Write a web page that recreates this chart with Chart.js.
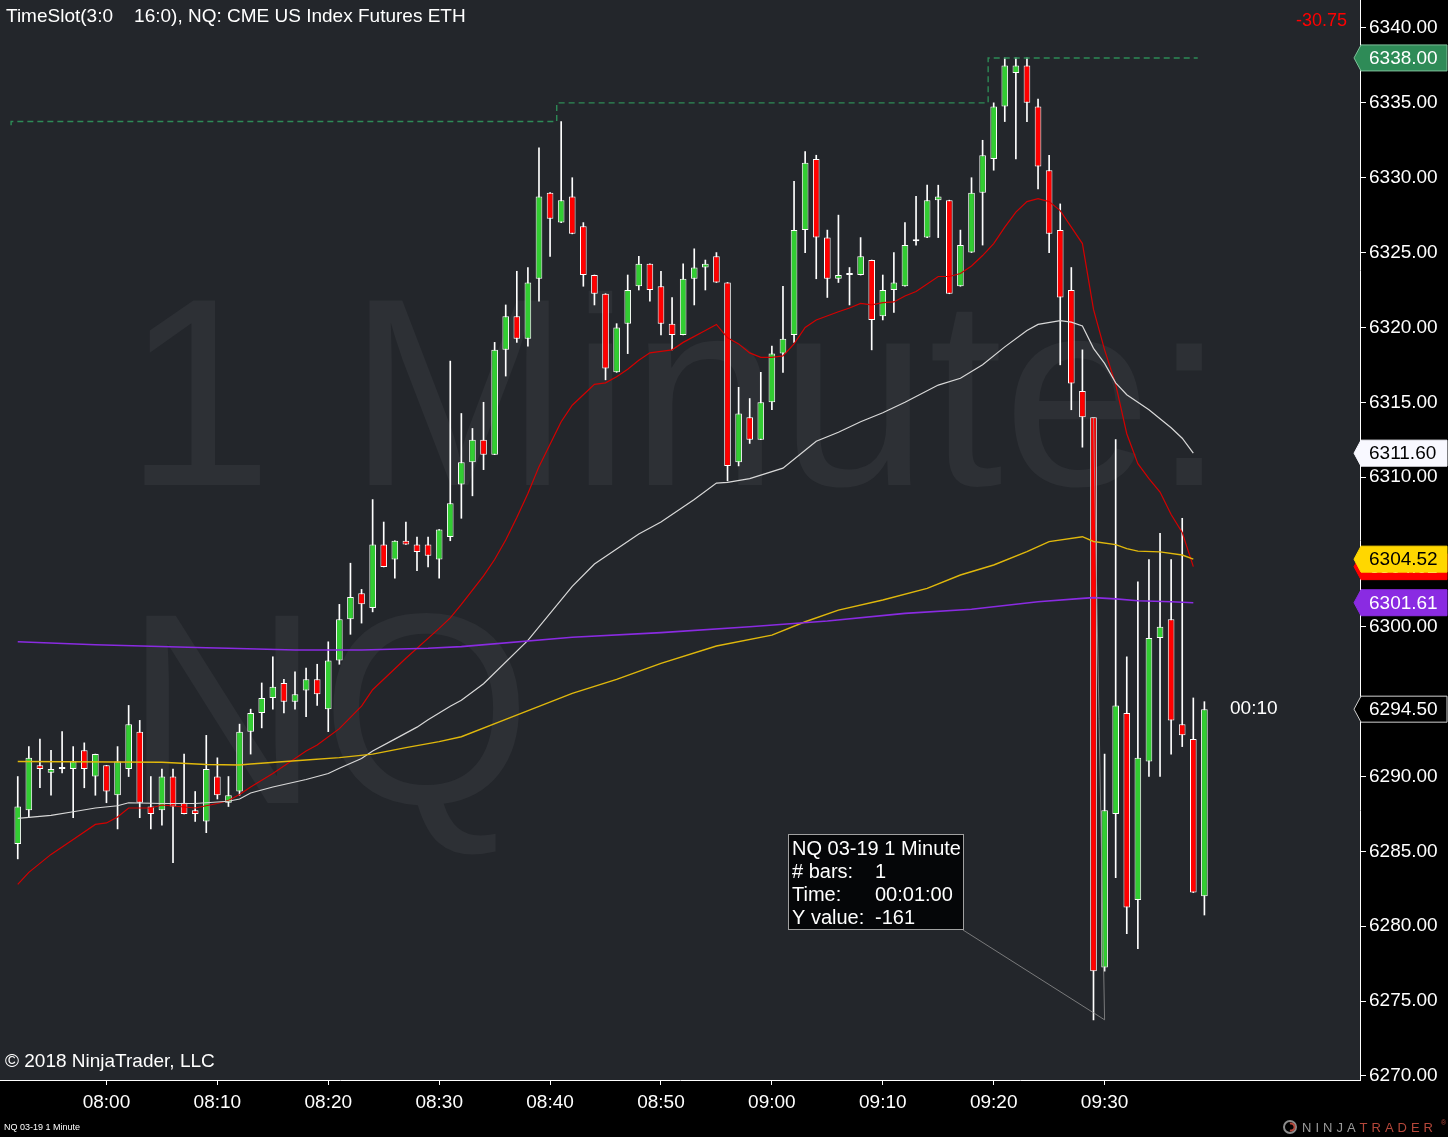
<!DOCTYPE html>
<html>
<head>
<meta charset="utf-8">
<title>NQ 03-19 1 Minute</title>
<script src="https://cdn.jsdelivr.net/npm/chart.js@4.4.1/dist/chart.umd.min.js"></script>
<style>
  html, body { margin: 0; padding: 0; background: #000; overflow: hidden; }
  #wrap { width: 1448px; height: 1137px; }
</style>
</head>
<body>
<div id="wrap"><canvas id="chart" width="1448" height="1137"></canvas></div>
<script>
// bars, 1 minute, 07:52 -> 09:39
const times = [
    "07:52", "07:53", "07:54", "07:55", "07:56", "07:57", "07:58", "07:59",
    "08:00", "08:01", "08:02", "08:03", "08:04", "08:05", "08:06", "08:07", "08:08", "08:09",
    "08:10", "08:11", "08:12", "08:13", "08:14", "08:15", "08:16", "08:17", "08:18", "08:19",
    "08:20", "08:21", "08:22", "08:23", "08:24", "08:25", "08:26", "08:27", "08:28", "08:29",
    "08:30", "08:31", "08:32", "08:33", "08:34", "08:35", "08:36", "08:37", "08:38", "08:39",
    "08:40", "08:41", "08:42", "08:43", "08:44", "08:45", "08:46", "08:47", "08:48", "08:49",
    "08:50", "08:51", "08:52", "08:53", "08:54", "08:55", "08:56", "08:57", "08:58", "08:59",
    "09:00", "09:01", "09:02", "09:03", "09:04", "09:05", "09:06", "09:07", "09:08", "09:09",
    "09:10", "09:11", "09:12", "09:13", "09:14", "09:15", "09:16", "09:17", "09:18", "09:19",
    "09:20", "09:21", "09:22", "09:23", "09:24", "09:25", "09:26", "09:27", "09:28", "09:29",
    "09:30", "09:31", "09:32", "09:33", "09:34", "09:35", "09:36", "09:37", "09:38", "09:39"
]

const opens = [
    6285.5, 6287.75, 6290.75, 6290.25, 6290.5, 6290.5, 6291.75, 6290.0, 6290.75, 6288.75,
    6290.5, 6293.0, 6288.0, 6287.75, 6290.0, 6288.25, 6287.75, 6287.0, 6290.0, 6288.25,
    6289.0, 6293.0, 6294.25, 6295.25, 6296.25, 6295.0, 6295.75, 6296.5, 6294.5, 6297.75,
    6300.5, 6302.25, 6301.25, 6305.5, 6304.5, 6305.75, 6305.5, 6305.5, 6304.5, 6306.0,
    6309.5, 6311.0, 6312.5, 6311.5, 6318.5, 6320.75, 6319.25, 6323.25, 6329.0, 6327.0,
    6328.75, 6326.75, 6323.5, 6322.25, 6317.0, 6320.25, 6322.75, 6324.25, 6322.75, 6320.25,
    6319.5, 6323.25, 6324.0, 6324.75, 6323.0, 6311.0, 6314.0, 6312.5, 6315.0, 6318.25,
    6319.5, 6326.5, 6331.25, 6326.0, 6323.25, 6323.5, 6323.5, 6324.5, 6320.75, 6322.5,
    6322.75, 6325.75, 6326.0, 6328.5, 6328.5, 6322.75, 6325.0, 6329.0, 6331.25, 6334.75,
    6337.0, 6337.5, 6334.75, 6330.5, 6326.5, 6322.5, 6315.75, 6314.0, 6277.25, 6287.5,
    6294.25, 6281.75, 6291.0, 6299.25, 6300.5, 6293.5, 6292.5, 6282.0
]
const highs = [
    6290.0, 6292.0, 6292.5, 6291.75, 6293.0, 6292.0, 6292.25, 6291.5, 6290.75, 6292.0,
    6294.75, 6293.75, 6290.0, 6290.5, 6290.5, 6291.5, 6289.0, 6292.75, 6291.25, 6290.0,
    6293.5, 6294.5, 6296.25, 6298.0, 6296.5, 6297.0, 6297.25, 6297.5, 6299.0, 6301.5,
    6304.25, 6302.5, 6308.5, 6307.0, 6305.75, 6307.0, 6306.0, 6306.0, 6306.5, 6317.75,
    6314.25, 6313.25, 6315.0, 6319.0, 6321.5, 6323.75, 6324.0, 6332.0, 6329.0, 6333.75,
    6330.0, 6327.0, 6323.5, 6322.25, 6320.25, 6323.5, 6324.75, 6324.25, 6323.75, 6322.0,
    6324.25, 6325.25, 6324.5, 6325.0, 6323.0, 6316.0, 6315.25, 6317.0, 6318.75, 6322.75,
    6329.75, 6331.75, 6331.5, 6326.5, 6327.5, 6324.0, 6326.0, 6324.5, 6323.5, 6325.0,
    6327.0, 6328.75, 6329.5, 6329.5, 6328.5, 6326.5, 6330.0, 6332.5, 6335.0, 6338.0,
    6338.0, 6338.0, 6335.25, 6331.5, 6328.25, 6324.0, 6318.5, 6314.0, 6291.5, 6312.5,
    6298.0, 6303.0, 6304.5, 6306.25, 6304.5, 6307.25, 6295.25, 6295.0
]
const lows = [
    6284.5, 6287.25, 6289.25, 6288.75, 6290.25, 6287.25, 6289.25, 6288.75, 6288.25, 6286.5,
    6290.0, 6287.25, 6286.5, 6286.75, 6284.25, 6287.5, 6287.0, 6286.25, 6288.5, 6288.0,
    6288.75, 6291.5, 6293.25, 6294.5, 6294.25, 6294.5, 6294.0, 6294.75, 6293.0, 6297.5,
    6299.5, 6300.25, 6301.0, 6304.0, 6303.25, 6305.5, 6303.75, 6304.0, 6303.25, 6305.75,
    6307.25, 6308.75, 6310.5, 6311.5, 6316.75, 6319.0, 6318.75, 6321.75, 6324.75, 6327.0,
    6326.25, 6322.75, 6321.5, 6316.5, 6317.0, 6318.25, 6322.5, 6321.75, 6319.5, 6318.5,
    6319.5, 6321.5, 6322.5, 6323.0, 6309.75, 6310.75, 6312.25, 6312.5, 6314.5, 6317.0,
    6319.0, 6325.0, 6323.25, 6322.0, 6323.0, 6321.5, 6323.5, 6318.5, 6320.5, 6321.0,
    6322.75, 6325.5, 6326.0, 6326.0, 6322.25, 6322.75, 6325.0, 6325.5, 6330.5, 6333.75,
    6331.25, 6333.75, 6329.25, 6325.0, 6317.5, 6314.5, 6312.0, 6273.75, 6277.0, 6283.25,
    6279.5, 6278.5, 6290.0, 6290.0, 6291.5, 6292.0, 6282.25, 6280.75
]
const closes = [
    6288.0, 6291.25, 6290.5, 6290.5, 6290.5, 6291.0, 6290.5, 6291.5, 6289.0, 6291.0,
    6293.5, 6288.25, 6287.5, 6290.0, 6288.0, 6287.5, 6287.5, 6290.5, 6288.75, 6288.75,
    6293.0, 6294.25, 6295.25, 6296.0, 6295.0, 6295.5, 6296.5, 6295.5, 6297.75, 6300.5,
    6302.0, 6301.5, 6305.5, 6304.0, 6305.75, 6305.5, 6305.0, 6304.75, 6306.5, 6308.25,
    6311.0, 6312.5, 6311.5, 6318.5, 6320.75, 6319.25, 6323.0, 6328.75, 6327.25, 6328.5,
    6326.25, 6323.5, 6322.25, 6317.25, 6320.0, 6322.5, 6324.25, 6322.5, 6320.25, 6319.5,
    6323.25, 6324.0, 6324.25, 6323.0, 6310.75, 6314.25, 6312.5, 6315.0, 6318.25, 6319.25,
    6326.5, 6331.0, 6326.0, 6323.25, 6323.5, 6323.5, 6324.75, 6320.5, 6322.5, 6323.0,
    6325.5, 6325.75, 6328.5, 6328.75, 6322.25, 6325.5, 6329.0, 6331.5, 6334.75, 6337.5,
    6337.5, 6335.0, 6330.75, 6326.25, 6322.0, 6316.25, 6314.0, 6277.0, 6287.75, 6294.75,
    6281.25, 6291.25, 6299.25, 6300.0, 6293.75, 6292.75, 6282.25, 6294.5
]

// moving averages at bar times
const fastMa = [
    ["07:52", 6282.8], ["07:53", 6283.6], ["07:55", 6284.8], ["07:57", 6285.8], ["07:59", 6286.8],
    ["08:00", 6286.9], ["08:01", 6287.3], ["08:02", 6287.9], ["08:04", 6287.9], ["08:05", 6288.1],
    ["08:08", 6287.9], ["08:10", 6288.2], ["08:11", 6288.4], ["08:12", 6288.8], ["08:13", 6289.3],
    ["08:15", 6290.2], ["08:18", 6291.7], ["08:19", 6292.1], ["08:21", 6293.2], ["08:23", 6294.7],
    ["08:24", 6295.8], ["08:27", 6297.9], ["08:30", 6299.9], ["08:31", 6300.6], ["08:32", 6301.5],
    ["08:34", 6303.4], ["08:35", 6304.5], ["08:36", 6305.8], ["08:37", 6307.3], ["08:38", 6308.9],
    ["08:39", 6310.7], ["08:41", 6313.7], ["08:42", 6314.8], ["08:43", 6315.5], ["08:44", 6316.2],
    ["08:45", 6316.3], ["08:46", 6316.7], ["08:47", 6317.2], ["08:48", 6317.8], ["08:49", 6318.3],
    ["08:50", 6318.4], ["08:51", 6318.5], ["08:52", 6319.0], ["08:54", 6319.8], ["08:55", 6320.2],
    ["08:56", 6319.3], ["08:57", 6318.9], ["08:58", 6318.3], ["08:59", 6318.0], ["09:00", 6318.0],
    ["09:01", 6318.1], ["09:02", 6318.9], ["09:03", 6320.0], ["09:04", 6320.5], ["09:06", 6321.05],
    ["09:07", 6321.3], ["09:08", 6321.6], ["09:09", 6321.5], ["09:10", 6321.65], ["09:11", 6321.7],
    ["09:12", 6322.1], ["09:13", 6322.4], ["09:15", 6323.4], ["09:16", 6323.4], ["09:17", 6323.6],
    ["09:18", 6324.1], ["09:19", 6324.8], ["09:20", 6325.6], ["09:21", 6326.7], ["09:22", 6327.7],
    ["09:23", 6328.4], ["09:24", 6328.6], ["09:25", 6328.4], ["09:26", 6327.8], ["09:27", 6326.7],
    ["09:28", 6325.6], ["09:29", 6321.2], ["09:30", 6318.5], ["09:31", 6316.2], ["09:32", 6312.9],
    ["09:33", 6310.9], ["09:34", 6309.9], ["09:35", 6309.0], ["09:36", 6307.5], ["09:37", 6306.3],
    ["09:38", 6304.02]
]
const midMa = [
    ["07:52", 6287.2], ["07:55", 6287.4], ["07:57", 6287.65], ["07:59", 6287.9], ["08:01", 6288.05],
    ["08:02", 6288.25], ["08:05", 6288.2], ["08:08", 6288.2], ["08:10", 6288.3], ["08:11", 6288.35],
    ["08:12", 6288.5], ["08:13", 6288.9], ["08:15", 6289.3], ["08:18", 6289.8], ["08:20", 6290.2],
    ["08:21", 6290.55], ["08:23", 6291.2], ["08:24", 6291.7], ["08:26", 6292.5], ["08:28", 6293.3],
    ["08:29", 6293.8], ["08:31", 6294.7], ["08:32", 6295.1], ["08:34", 6296.2], ["08:38", 6299.1],
    ["08:42", 6302.7], ["08:44", 6304.2], ["08:45", 6304.7], ["08:46", 6305.2], ["08:48", 6306.2],
    ["08:50", 6307.0], ["08:52", 6308.0], ["08:53", 6308.5], ["08:55", 6309.6], ["08:56", 6309.65],
    ["08:58", 6309.9], ["09:01", 6310.6], ["09:03", 6311.8], ["09:04", 6312.4], ["09:06", 6313.0],
    ["09:08", 6313.7], ["09:10", 6314.3], ["09:12", 6315.0], ["09:15", 6316.15], ["09:17", 6316.6],
    ["09:19", 6317.5], ["09:21", 6318.7], ["09:23", 6319.8], ["09:24", 6320.2], ["09:26", 6320.45],
    ["09:27", 6320.35], ["09:28", 6320.1], ["09:29", 6318.6], ["09:30", 6317.6], ["09:31", 6316.3],
    ["09:32", 6315.5], ["09:33", 6315.0], ["09:34", 6314.5], ["09:35", 6313.9], ["09:36", 6313.3],
    ["09:37", 6312.6], ["09:38", 6311.6]
]
const slowMa = [
    ["07:52", 6291.0], ["08:05", 6290.95], ["08:09", 6290.8], ["08:12", 6290.77], ["08:13", 6290.84],
    ["08:18", 6291.1], ["08:21", 6291.26], ["08:24", 6291.5], ["08:27", 6291.93], ["08:30", 6292.33],
    ["08:32", 6292.66], ["08:36", 6293.82], ["08:42", 6295.56], ["08:46", 6296.49], ["08:50", 6297.56],
    ["08:55", 6298.72], ["09:00", 6299.45], ["09:03", 6300.34], ["09:06", 6301.12], ["09:10", 6301.79],
    ["09:14", 6302.57], ["09:17", 6303.46], ["09:20", 6304.13], ["09:23", 6305.02], ["09:25", 6305.69],
    ["09:28", 6306.02], ["09:29", 6305.7], ["09:31", 6305.49], ["09:32", 6305.22], ["09:33", 6305.06],
    ["09:35", 6305.01], ["09:37", 6304.8], ["09:38", 6304.52]
]
const longMa = [
    ["07:52", 6299.0], ["07:59", 6298.8], ["08:09", 6298.6], ["08:11", 6298.57], ["08:17", 6298.45],
    ["08:23", 6298.45], ["08:29", 6298.57], ["08:32", 6298.68], ["08:42", 6299.3], ["08:50", 6299.61],
    ["08:58", 6300.01], ["09:05", 6300.39], ["09:12", 6300.9], ["09:18", 6301.17], ["09:24", 6301.68],
    ["09:28", 6301.9], ["09:29", 6301.95], ["09:31", 6301.87], ["09:33", 6301.74], ["09:36", 6301.68],
    ["09:38", 6301.61]
]

// running session high (dashed step line), minutes after 08:00
const highStepMinutes = [-8.6, 40.6, 79.5, 80.5, 98.4]
const highStepValues = [6333.5, 6333.75, 6335.0, 6338.0, 6338.0]

// right hand price markers
const tagValues = [6338.00, 6311.60, 6304.02, 6304.52, 6301.61, 6294.50]
const tagStyles = [
    { fill: "#2e8b57", text: "#ffffff", stroke: "#7fbf9a" },
    { fill: "#f8f8ff", text: "#000000", stroke: "#f8f8ff" },
    { fill: "#ff0000", text: "#ffffff", stroke: "#ff0000" },
    { fill: "#ffd700", text: "#000000", stroke: "#ffd700" },
    { fill: "#8a2be2", text: "#ffffff", stroke: "#8a2be2" },
    { fill: "#000000", text: "#ffffff", stroke: "#d0d0d0" }
]

const netChange = "-30.75"
const barTimer = "00:10"

// ruler drawn from 09:29 open to 09:30 low
const rulerTimes = ["09:29", "09:30"]
const rulerPrices = [6314.0, 6273.75]
const rulerLabels = ["# bars:", "Time:", "Y value:"]
const rulerValues = ["1", "00:01:00", "-161"]

const xTickStep = 10
const yTickStep = 5

const FONT = "'Liberation Sans', Arial, Helvetica, sans-serif"

function toMinutes(t) {
    const [h, m] = t.split(":").map(Number)
    return (h - 8) * 60 + m
}

function minutesLabel(v) {
    const total = 8 * 60 + v
    const h = Math.floor(total / 60)
    const m = total % 60
    return String(h).padStart(2, "0") + ":" + String(m).padStart(2, "0")
}

const lastBarMinute = toMinutes(times[times.length - 1])

const bodies = times.map((t, i) => ({ x: toMinutes(t), y: [opens[i], closes[i]] }))
const wicks = times.map((t, i) => ({ x: toMinutes(t), y: [lows[i], highs[i]] }))
const bodyColors = times.map((t, i) => closes[i] >= opens[i] ? "#32cd32" : "#ff0000")

function maLine(points, color, width) {
    return {
        type: "line",
        data: points.map(([t, v]) => ({ x: toMinutes(t), y: v })),
        borderColor: color,
        borderWidth: width,
        pointRadius: 0,
        tension: 0,
        order: 0
    }
}

const TAG_H = 26

function priceTag(ctx, y, text, style) {
    const tip = 1354, left = 1361, right = 1447, h = TAG_H
    ctx.beginPath()
    ctx.moveTo(tip, y)
    ctx.lineTo(left, y - h / 2)
    ctx.lineTo(right, y - h / 2)
    ctx.lineTo(right, y + h / 2)
    ctx.lineTo(left, y + h / 2)
    ctx.closePath()
    ctx.fillStyle = style.fill
    ctx.fill()
    ctx.lineWidth = 1
    ctx.strokeStyle = style.stroke
    ctx.stroke()
    ctx.fillStyle = style.text
    ctx.font = `19px ${FONT}`
    ctx.textAlign = "left"
    ctx.textBaseline = "middle"
    ctx.fillText(text, 1369, y + 1)
}

const backdrop = {
    id: "backdrop",
    beforeDraw(chart) {
        const { ctx, chartArea } = chart
        ctx.save()
        ctx.fillStyle = "#000000"
        ctx.fillRect(0, 0, chart.width, chart.height)
        ctx.fillStyle = "#23262b"
        ctx.fillRect(chartArea.left, chartArea.top, chartArea.right - chartArea.left, chartArea.bottom - chartArea.top)

        // watermark
        ctx.fillStyle = "#2d3035"
        ctx.font = `268px ${FONT}`
        ctx.textAlign = "left"
        ctx.textBaseline = "alphabetic"
        ctx.fillText("1 Minute:", 124, 485)
        ctx.font = `272px ${FONT}`
        ctx.fillText("NQ", 124, 803)
        ctx.restore()
    }
}

const ruler = {
    id: "ruler",
    afterDatasetsDraw(chart) {
        const { ctx, scales } = chart
        const x0 = scales.x.getPixelForValue(toMinutes(rulerTimes[0]))
        const x1 = scales.x.getPixelForValue(toMinutes(rulerTimes[1]))
        const y0 = scales.y.getPixelForValue(rulerPrices[0])
        const y1 = scales.y.getPixelForValue(rulerPrices[1])
        ctx.save()
        ctx.strokeStyle = "rgba(150,150,150,0.75)"
        ctx.lineWidth = 1
        ctx.beginPath()
        ctx.moveTo(x0, y0)
        ctx.lineTo(x1, y1)
        ctx.lineTo(963, 930)
        ctx.stroke()

        // info box
        ctx.fillStyle = "#050608"
        ctx.fillRect(788.5, 834.5, 175, 95)
        ctx.strokeStyle = "#a0a0a0"
        ctx.strokeRect(788.5, 834.5, 175, 95)
        ctx.fillStyle = "#ffffff"
        ctx.font = `20px ${FONT}`
        ctx.textAlign = "left"
        ctx.textBaseline = "middle"
        ctx.fillText("NQ 03-19 1 Minute", 792, 849)
        rulerLabels.forEach((label, i) => {
            ctx.fillText(label, 792, 872 + i * 23)
            ctx.fillText(rulerValues[i], 875, 872 + i * 23)
        })
        ctx.restore()
    }
}

const overlay = {
    id: "overlay",
    afterDraw(chart) {
        const { ctx, scales } = chart
        ctx.save()
        ctx.textBaseline = "middle"
        ctx.textAlign = "left"
        ctx.fillStyle = "#ffffff"
        ctx.font = `19px ${FONT}`
        ctx.fillText("TimeSlot(3:0    16:0), NQ: CME US Index Futures ETH", 6, 17)
        ctx.fillText("© 2018 NinjaTrader, LLC", 5, 1062)
        ctx.fillText(barTimer, 1230, 709)

        ctx.fillStyle = "#ff0000"
        ctx.textAlign = "right"
        ctx.font = `18px ${FONT}`
        ctx.fillText(netChange, 1347, 21)

        ctx.textAlign = "left"
        ctx.fillStyle = "#ffffff"
        ctx.font = `9px ${FONT}`
        ctx.fillText("NQ 03-19 1 Minute", 4, 1128)

        // logo
        ctx.lineWidth = 2
        ctx.strokeStyle = "#8c8c8c"
        ctx.beginPath()
        ctx.arc(1290, 1127, 6, 0, Math.PI * 2)
        ctx.stroke()
        ctx.strokeStyle = "#b5473a"
        ctx.beginPath()
        ctx.arc(1291, 1127, 3.5, -Math.PI * 0.6, Math.PI * 0.6)
        ctx.stroke()
        ctx.font = `13px ${FONT}`
        ctx.letterSpacing = "4px"
        ctx.fillStyle = "#9a9a9a"
        ctx.fillText("NINJA", 1302, 1128)
        const w = ctx.measureText("NINJA").width
        ctx.fillStyle = "#b5473a"
        ctx.fillText("TRADER", 1302 + w, 1128)
        ctx.letterSpacing = "0px"
        ctx.font = `7px ${FONT}`
        ctx.fillText("®", 1441, 1123)

        // clear axis labels hidden behind the tags, then draw the tags
        ctx.fillStyle = "#000000"
        tagValues.forEach(v => {
            const y = scales.y.getPixelForValue(v)
            ctx.fillRect(1362, y - TAG_H / 2 - 3, 86, TAG_H + 6)
        })
        tagValues.forEach((v, i) => {
            priceTag(ctx, scales.y.getPixelForValue(v), v.toFixed(2), tagStyles[i])
        })
        ctx.restore()
    }
}

new Chart(document.querySelector("#chart"), {
    type: "bar",
    data: {
        datasets: [
            maLine(longMa, "#8a2be2", 1.6),
            maLine(slowMa, "#e0b80c", 1.4),
            maLine(midMa, "#d8d8d8", 1.2),
            maLine(fastMa, "#d40000", 1.2),
            {
                type: "line",
                data: highStepMinutes.map((m, i) => ({ x: m, y: highStepValues[i] })),
                stepped: "after",
                borderColor: "#2e8b57",
                borderWidth: 1.4,
                borderDash: [6, 4],
                pointRadius: 0,
                order: 0
            },
            {
                data: bodies,
                backgroundColor: bodyColors,
                borderColor: "#ffffff",
                borderWidth: 1,
                borderSkipped: false,
                barPercentage: 0.6,
                categoryPercentage: 1,
                minBarLength: 2,
                grouped: false,
                order: 1
            },
            {
                data: wicks,
                backgroundColor: "#ffffff",
                borderWidth: 0,
                barThickness: 1,
                grouped: false,
                order: 2
            }
        ]
    },
    options: {
        responsive: false,
        devicePixelRatio: 1,
        animation: false,
        events: [],
        layout: { padding: 0 },
        plugins: {
            legend: { display: false },
            tooltip: { enabled: false },
            title: { display: false }
        },
        scales: {
            x: {
                type: "linear",
                min: -9.6,
                max: 113.03,
                offset: false,
                grid: { display: true, drawOnChartArea: false, drawTicks: true, tickLength: 5, color: "#ffffff", offset: false },
                border: { display: true, color: "#ffffff", width: 1 },
                ticks: {
                    stepSize: xTickStep,
                    includeBounds: false,
                    maxTicksLimit: 30,
                    autoSkip: false,
                    maxRotation: 0,
                    color: "#ffffff",
                    padding: 6,
                    font: { family: FONT, size: 19 },
                    callback: v => minutesLabel(v)
                },
                afterBuildTicks: scale => {
                    scale.ticks = scale.ticks.filter(t => Math.abs(t.value % xTickStep) < 1e-6 && t.value <= lastBarMinute)
                },
                afterFit: scale => {
                    scale.height = 57
                    scale.paddingLeft = 0
                    scale.paddingRight = 0
                }
            },
            y: {
                position: "right",
                min: 6269.73,
                max: 6341.87,
                grid: { display: true, drawOnChartArea: false, drawTicks: true, tickLength: 6, color: "#ffffff" },
                border: { display: true, color: "#ffffff", width: 1 },
                ticks: {
                    stepSize: yTickStep,
                    includeBounds: false,
                    maxTicksLimit: 40,
                    autoSkip: false,
                    color: "#ffffff",
                    padding: 3,
                    font: { family: FONT, size: 19 },
                    callback: v => v.toFixed(2)
                },
                afterBuildTicks: scale => {
                    scale.ticks = scale.ticks.filter(t => Math.abs(t.value % yTickStep) < 1e-6)
                },
                afterFit: scale => {
                    scale.width = 88
                    scale.paddingTop = 0
                    scale.paddingBottom = 0
                }
            }
        }
    },
    plugins: [backdrop, ruler, overlay]
})
</script>
</body>
</html>
